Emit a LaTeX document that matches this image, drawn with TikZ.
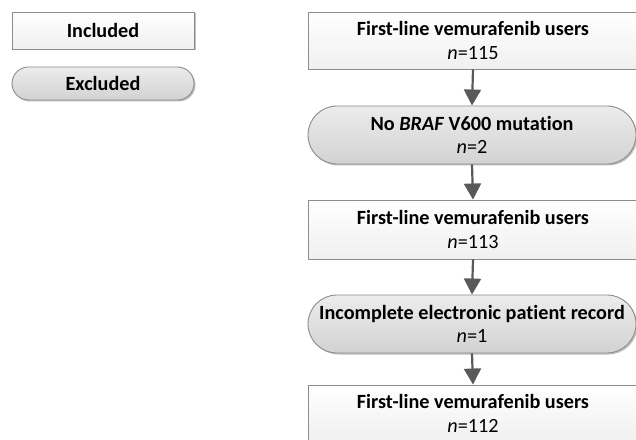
\documentclass[tikz,border=0pt]{standalone}
\usepackage{fontspec}
\setmainfont{Carlito}[Ligatures=CommonOff]
\usetikzlibrary{arrows.meta,shadows}
\definecolor{edgegray}{HTML}{8C8C8C}
\definecolor{arrowgray}{HTML}{595959}
\tikzset{
  basebox/.style={draw=edgegray, line width=0.9pt, align=center,
    font=\fontsize{20.2}{23.5}\selectfont\bfseries, inner sep=0pt,
    drop shadow={shadow xshift=1.5pt, shadow yshift=-1.5pt, opacity=0.25, fill=black}},
  inclbox/.style={basebox, rectangle, top color=white, bottom color=gray!12},
  exclbox/.style={basebox, rectangle, rounded corners=#1, top color=gray!15, bottom color=gray!35},
  flowarrow/.style={draw=arrowgray, line width=2.2pt, -{Triangle[width=17pt,length=16pt]}}
}
\begin{document}
\begin{tikzpicture}[x=1pt,y=1pt]
\useasboundingbox (0,0) rectangle (636,439);
\clip (0,0) rectangle (636,439);
\fill[white] (0,0) rectangle (636,439);
% legend
\node[inclbox, minimum width=182pt, minimum height=37pt] (leg1) at (103,408.5) {Included};
\node[exclbox=16.5pt, minimum width=182pt, minimum height=33pt] (leg2) at (103,355.5) {Excluded};
% flow
\node[inclbox, minimum width=330pt, minimum height=57pt] (b1) at (473,398.5) {First-line vemurafenib users\\\normalfont\itshape n\upshape=115};
\node[exclbox=29pt, minimum width=328pt, minimum height=58pt] (e1) at (472,304) {No \textit{BRAF} V600 mutation\\\normalfont\itshape n\upshape=2};
\node[inclbox, minimum width=330pt, minimum height=59pt] (b2) at (473,209.5) {First-line vemurafenib users\\\normalfont\itshape n\upshape=113};
\node[exclbox=29pt, minimum width=328pt, minimum height=58pt] (e2) at (472,115) {Incomplete electronic patient record\\\normalfont\itshape n\upshape=1};
\node[inclbox, minimum width=330pt, minimum height=57pt] (b3) at (473,25.5) {First-line vemurafenib users\\\normalfont\itshape n\upshape=112};
\draw[flowarrow] (b1.south) -- (e1.north);
\draw[flowarrow] (e1.south) -- (b2.north);
\draw[flowarrow] (b2.south) -- (e2.north);
\draw[flowarrow] (e2.south) -- (b3.north);
\end{tikzpicture}
\end{document}
